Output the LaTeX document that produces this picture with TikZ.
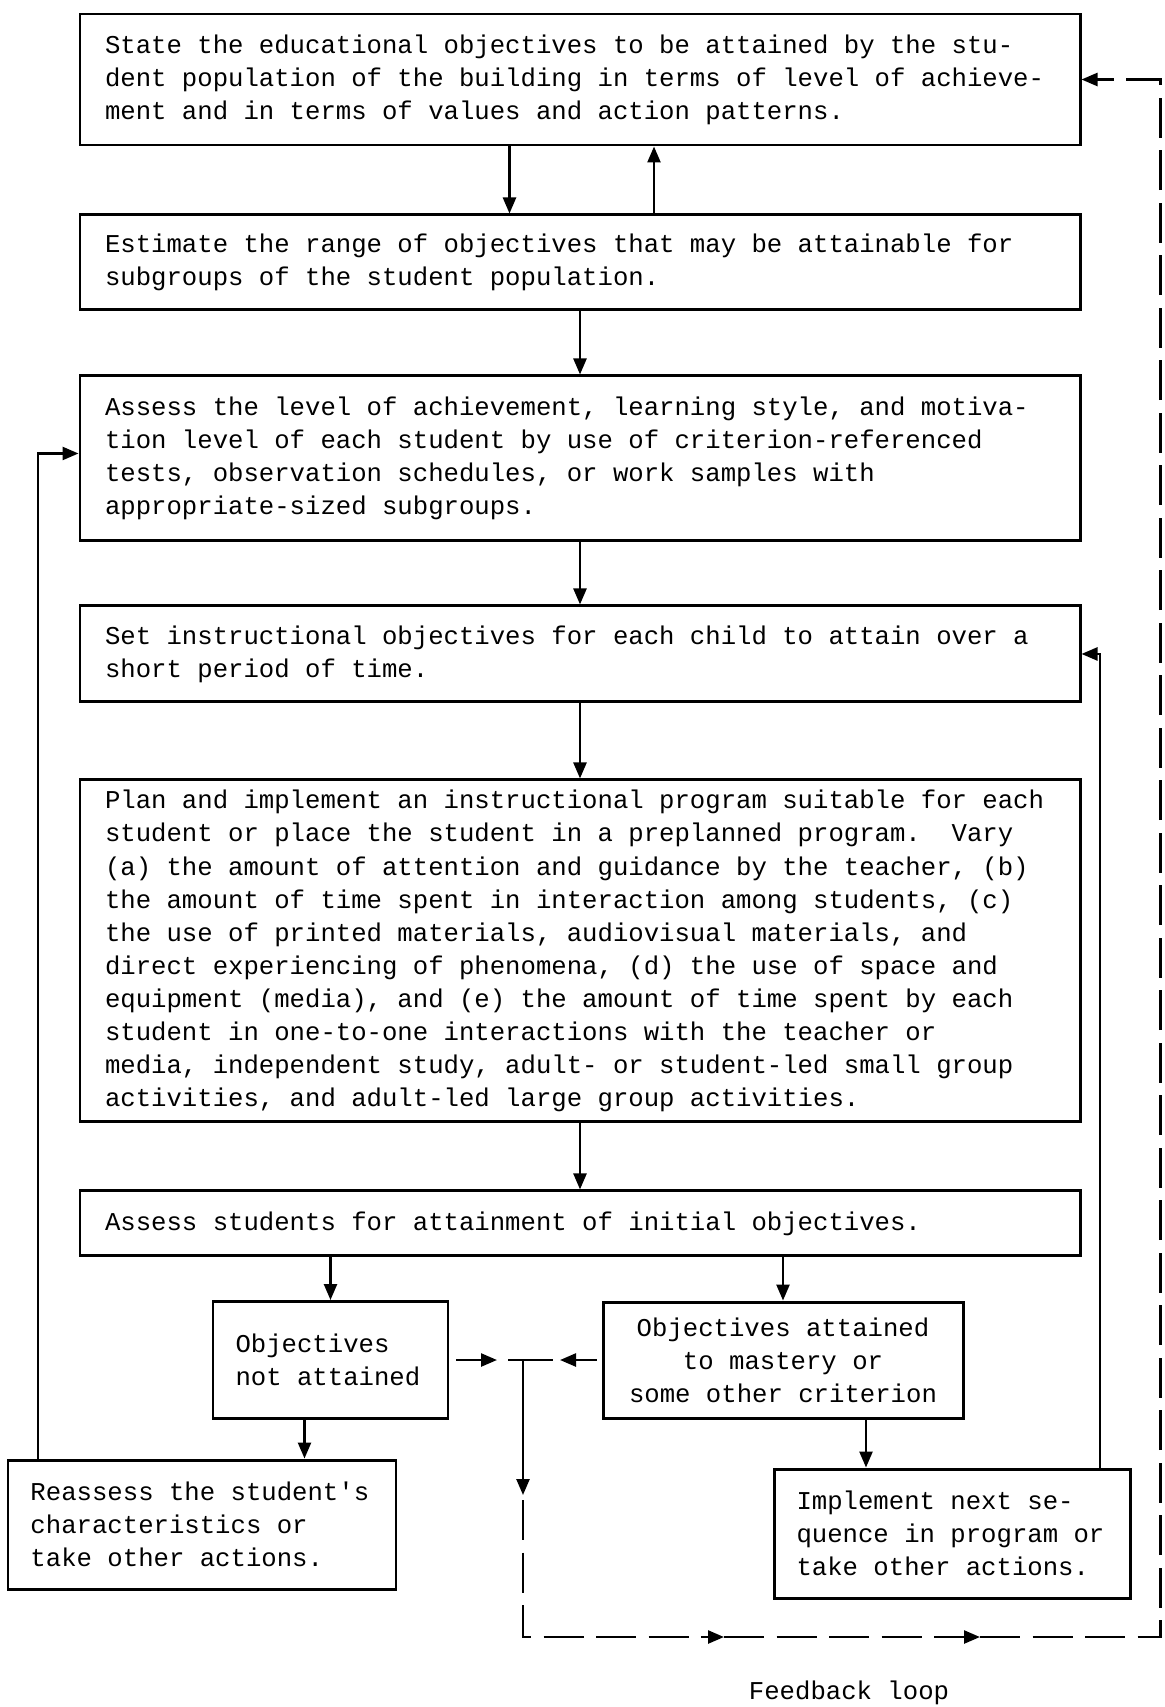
\documentclass[tikz,border=0pt]{standalone}
\usepackage{fontspec}
\setmonofont{Liberation Mono}
\usepackage{tikz}
\usetikzlibrary{positioning,arrows.meta}

\DeclareRobustCommand\boxfont{\ttfamily\frenchspacing\fontsize{14.6}{18.8}\selectfont}
\DeclareRobustCommand\monospacing{\spaceskip=0.6em\xspaceskip=0.6em\relax}

\begin{document}
\begin{tikzpicture}[thick, font=\boxfont, execute at begin node=\monospacing,
    >={Triangle[length=0.32cm,width=0.26cm]},
    stepbox/.style={draw, rectangle, line width=1.7pt, minimum width=20cm, text width=19cm, inner xsep=0.5cm, inner ysep=0.1cm, align=left},
    smallbox/.style={draw, rectangle, line width=1.7pt, inner xsep=0.45cm, inner ysep=0.1cm, align=left},
    link/.style={->, line width=1.4pt},
    fbline/.style={->, line width=1.4pt, dash pattern=on 0.8cm off 0.25cm}]

    \useasboundingbox (0,0) rectangle (23.28,-34.14);

    \node[stepbox, minimum height=2.62cm] (state) at (11.6,-1.59)
    {State the educational objectives to be attained by the stu-\\
     dent population of the building in terms of level of achieve-\\
     ment and in terms of values and action patterns.};

    \node[stepbox, minimum height=1.9cm, below=1.34cm of state] (estimate)
    {Estimate the range of objectives that may be attainable for\\
     subgroups of the student population.};

    \node[stepbox, minimum height=3.3cm, below=1.26cm of estimate] (assess)
    {Assess the level of achievement, learning style, and motiva-\\
     tion level of each student by use of criterion-referenced\\
     tests, observation schedules, or work samples with\\
     appropriate-sized subgroups.};

    \node[stepbox, minimum height=1.92cm, below=1.24cm of assess] (setobj)
    {Set instructional objectives for each child to attain over a\\
     short period of time.};

    \node[stepbox, minimum height=6.84cm, below=1.5cm of setobj] (plan)
    {Plan and implement an instructional program suitable for each\\
     student or place the student in a preplanned program.\ \ Vary\\
     (a) the amount of attention and guidance by the teacher, (b)\\
     the amount of time spent in interaction among students, (c)\\
     the use of printed materials, audiovisual materials, and\\
     direct experiencing of phenomena, (d) the use of space and\\
     equipment (media), and (e) the amount of time spent by each\\
     student in one-to-one interactions with the teacher or\\
     media, independent study, adult- or student-led small group\\
     activities, and adult-led large group activities.};

    \node[stepbox, minimum height=1.3cm, below=1.32cm of plan] (check)
    {Assess students for attainment of initial objectives.};

    % ---------------------------------------------------------

    \node[smallbox, minimum width=4.7cm, minimum height=2.34cm, text width=3.8cm] (notmet) at (6.61,-27.2)
    {Objectives\\ not attained};

    \node[smallbox, minimum width=7.2cm, minimum height=2.32cm, text width=6.3cm, align=center] (met) at (15.66,-27.2)
    {Objectives attained\\ to mastery or\\ some other criterion};

    \node[smallbox, minimum width=7.76cm, minimum height=2.58cm, text width=6.86cm] (reassess) at (4.04,-30.49)
    {Reassess the student's\\ characteristics or\\ take other actions.};

    \node[smallbox, minimum width=7.12cm, minimum height=2.58cm, text width=6.22cm] (next) at (19.04,-30.67)
    {Implement next se-\\ quence in program or\\ take other actions.};

    \node (fbtext) at (16.98,-33.86) {Feedback loop};

    \coordinate (tj) at (10.46,-27.2);
    \coordinate (tjtip) at (10.46,-29.9);
    \coordinate (fb1) at (14.48,-32.74);
    \coordinate (fb2) at (19.6,-32.74);
    \coordinate (fbcorner) at (23.21,-32.74);

    \path[link]
    {
        ([xshift=-1.41cm]state.south) edge ([xshift=-1.41cm]estimate.north)
        ([xshift=1.48cm]estimate.north) edge ([xshift=1.48cm]state.south)
        (estimate) edge (assess)
        (assess) edge (setobj)
        (setobj) edge (plan)
        (plan) edge (check)
    };

    % --------------------------------------------------

    \draw[link] (notmet.north |- check.south) -- (notmet);
    \draw[link] (met.north |- check.south) -- (met);
    \draw[link] ([xshift=-0.52cm]notmet.south) -- ([xshift=-0.52cm]notmet.south |- reassess.north);
    \draw[link] ([xshift=1.66cm]met.south) -- ([xshift=1.66cm]met.south |- next.north);
    \draw[link] ([xshift=-3.28cm]reassess.north) |- ([yshift=0.1cm]assess.west);
    \draw[link] ([xshift=2.96cm]next.north) |- (setobj.east);

    % feedback loop
    \draw[line width=1.4pt] ([xshift=-0.3cm]tj) -- ([xshift=0.6cm]tj);
    \draw[link] ([xshift=0.14cm]notmet.east) -- ([xshift=-0.52cm]tj);
    \draw[link] ([xshift=-0.1cm]met.west) -- ([xshift=0.74cm]tj);
    \draw[link] (tj) -- (tjtip);
    \draw[fbline] ([yshift=-0.1cm]tjtip) |- (fb1);
    \draw[fbline] (fb1) -- (fb2);
    \draw[fbline] (fb2) -- (fbcorner) |- (state.east);
\end{tikzpicture}
\end{document}
